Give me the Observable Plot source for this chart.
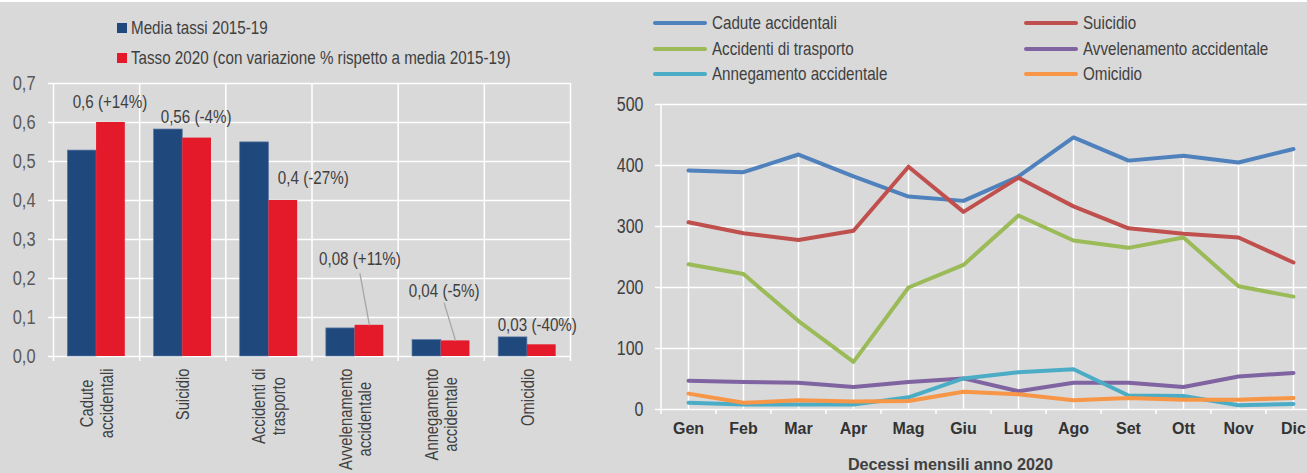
<!DOCTYPE html>
<html>
<head>
<meta charset="utf-8">
<script src="https://cdn.jsdelivr.net/npm/d3@7"></script>
<script src="https://cdn.jsdelivr.net/npm/@observablehq/plot@0.6"></script>
<style>
  html, body { margin: 0; padding: 0; background: #d9d9d9; width: 1307px; height: 473px; overflow: hidden; }
  #topstrip { position: absolute; left: 0; top: 0; width: 1307px; height: 2px; background: #ffffff; }
  .panel { position: absolute; top: 0; }
  .legend { position: absolute; font-family: 'Liberation Sans', Arial, sans-serif; font-size: 18.5px; color: #404040; white-space: nowrap; }
  .legend .item { position: absolute; display: flex; align-items: center; height: 20px; }
  .legend span { display: inline-block; transform: scaleX(0.82); transform-origin: left center; }
  .sq { width: 10px; height: 10px; margin-right: 4px; }
  .ln { width: 54px; height: 4px; border-radius: 2px; margin-right: 5px; }
</style>
</head>
<body>
<div id="topstrip"></div>
<div id="left" class="panel" style="left:0px;width:600px;height:473px;"></div>
<div id="right" class="panel" style="left:560px;width:760px;height:473px;"></div>
<div id="legendL" class="legend" style="left:117px;top:0px;"></div>
<div id="legendR" class="legend" style="left:653px;top:0px;"></div>
<script>
// ---------------- DATA ----------------
const categorie = ["Cadute accidentali", "Suicidio", "Accidenti di trasporto", "Avvelenamento accidentale", "Annegamento accidentale", "Omicidio"];
const etichetteCategorie = ["Cadute\naccidentali", "Suicidio", "Accidenti di\ntrasporto", "Avvelenamento\naccidentale", "Annegamento\naccidentale", "Omicidio"];
const media1519 = [0.528, 0.582, 0.549, 0.072, 0.042, 0.049];
const tasso2020 = [0.6, 0.56, 0.4, 0.08, 0.04, 0.03];
const variazione = [14, -4, -27, 11, -5, -40];
const tickSinistra = [0, 0.1, 0.2, 0.3, 0.4, 0.5, 0.6, 0.7];
const legendaSinistra = ["Media tassi 2015-19", "Tasso 2020 (con variazione % rispetto a media 2015-19)"];

const mesi = ["Gen", "Feb", "Mar", "Apr", "Mag", "Giu", "Lug", "Ago", "Set", "Ott", "Nov", "Dic"];
const cadute = [392, 389, 418, 382, 349, 342, 382, 446, 408, 416, 405, 427];
const suicidio = [307, 289, 278, 293, 398, 324, 380, 333, 297, 288, 282, 241];
const trasporto = [238, 222, 145, 78, 200, 237, 318, 277, 265, 282, 202, 185];
const avvelenamento = [47, 45, 44, 37, 45, 51, 30, 44, 44, 37, 54, 60];
const annegamento = [11, 8, 8, 8, 20, 51, 61, 66, 23, 22, 7, 9];
const omicidio = [26, 11, 15, 13, 14, 29, 25, 15, 19, 16, 16, 19];
const nomiSerie = ["Cadute accidentali", "Suicidio", "Accidenti di trasporto", "Avvelenamento accidentale", "Annegamento accidentale", "Omicidio"];
const tickDestra = [0, 100, 200, 300, 400, 500];
const titoloAsseX = "Decessi mensili anno 2020";

// ---------------- STYLE ----------------
const NARROW = "Liberation Sans";          // condensed horizontally below to mimic Arial Narrow
const NARROW_K = 0.82;
const WIDE = "Arial, 'Liberation Sans', sans-serif";
const BLU = "#1f497d", ROSSO = "#e41a2b";
const coloriSerie = ["#4f81bd", "#c0504d", "#9bbb59", "#8064a2", "#4bacc6", "#f79646"];
const GRID = "#ffffff";
const svgStyle = {background: "transparent", maxWidth: "none", overflow: "visible"};

function narrowText(svg) {
  svg.querySelectorAll("g").forEach(g => {
    if (g.getAttribute("font-family") !== NARROW) return;
    g.querySelectorAll("text").forEach(t => {
      const spans = t.querySelectorAll("tspan");
      const targets = spans.length ? Array.from(spans) : [t];
      targets.forEach(el => {
        const L = el.getComputedTextLength();
        if (L > 0) {
          el.setAttribute("textLength", (L * NARROW_K).toFixed(2));
          el.setAttribute("lengthAdjust", "spacingAndGlyphs");
        }
      });
    });
  });
}

// ---------------- LEGENDS (HTML) ----------------
const legL = document.getElementById("legendL");
[BLU, ROSSO].forEach((c, i) => {
  const it = document.createElement("div");
  it.className = "item";
  it.style.top = (18 + i * 30) + "px";
  it.innerHTML = `<div class="sq" style="background:${c}"></div><span>${legendaSinistra[i]}</span>`;
  legL.appendChild(it);
});
const legR = document.getElementById("legendR");
nomiSerie.forEach((n, i) => {
  const it = document.createElement("div");
  it.className = "item";
  it.style.left = ((i % 2) * 371) + "px";
  it.style.top = (13 + Math.floor(i / 2) * 25.5) + "px";
  it.innerHTML = `<div class="ln" style="background:${coloriSerie[i]}"></div><span>${n}</span>`;
  legR.appendChild(it);
});

// ---------------- LEFT CHART ----------------
const W1 = 600, H = 473, mL1 = 53, mR1 = 30, mT1 = 83, mB1 = 117;
const fw1 = W1 - mL1 - mR1, fh1 = H - mT1 - mB1;
const yMax1 = d3.max(tickSinistra);
const pxX = fw1 / categorie.length, pxY = fh1 / yMax1;
const idx = categorie.map((d, i) => i);
const confini = d3.range(categorie.length + 1).map(i => i - 0.5);
const fmtNum = v => String(v).replace(".", ",");
const fmtVar = v => (v > 0 ? "+" : "") + v + "%";

const ctx = document.createElement("canvas").getContext("2d");
ctx.font = "18px 'Liberation Sans'";

// label placement (styling offsets in px relative to top-centre of the 2020 bar)
const posEtichette = [
  {dx: -1, dy: -20}, {dx: -1, dy: -21}, {dx: 30, dy: -22},
  {dx: -9.5, dy: -66, leader: 14}, {dx: -11.5, dy: -50, leader: 12}, {dx: -4.5, dy: -19.5}
];

const barHalf = 1 / 3;
const marksL = [
  Plot.ruleY(tickSinistra, {stroke: GRID, strokeWidth: 1.5}),
  Plot.ruleX(confini, {stroke: GRID, strokeWidth: 1.5}),
  Plot.ruleY(tickSinistra, {stroke: GRID, strokeWidth: 1.5, insetLeft: -5, insetRight: fw1}),
  Plot.ruleX(confini, {stroke: GRID, strokeWidth: 1.5, insetTop: fh1, insetBottom: -5}),
  Plot.rectY(idx, {x1: i => i - barHalf, x2: i => i, y: i => media1519[i], fill: BLU, stroke: "#5a77a3", strokeWidth: 0.7}),
  Plot.rectY(idx, {x1: i => i, x2: i => i + barHalf, y: i => tasso2020[i], fill: ROSSO}),
  Plot.text(tickSinistra, {y: d => d, text: d => d.toFixed(1).replace(".", ","), frameAnchor: "left", textAnchor: "end", dx: -18,
    fontFamily: NARROW, fontSize: 20, fill: "#595959"})
];
// value labels
idx.forEach(i => {
  const p = posEtichette[i];
  marksL.push(Plot.text([i], {x: i => i + barHalf / 2, y: i => tasso2020[i], text: i => `${fmtNum(tasso2020[i])} (${fmtVar(variazione[i])})`,
    dx: p.dx, dy: p.dy, fontFamily: NARROW, fontSize: 18.5, fill: "#404040"}));
  if (p.leader) {
    marksL.push(Plot.link([i], {
      x1: i => i + barHalf / 2 + p.dx / pxX, y1: i => tasso2020[i] - (p.dy + p.leader) / pxY,
      x2: i => i + barHalf / 2, y2: i => tasso2020[i],
      stroke: "#a6a6a6", strokeWidth: 1.3}));
  }
});
// category labels (block hangs 12px below the axis, lines centred on each other)
etichetteCategorie.forEach((t, i) => {
  const w = d3.max(t.split("\n"), s => ctx.measureText(s).width) * NARROW_K;
  marksL.push(Plot.text([t], {x: () => i, text: d => d, frameAnchor: "bottom", rotate: -90, textAnchor: "middle", lineAnchor: "middle",
    lineHeight: 1.1, dy: 12 + w / 2, fontFamily: NARROW, fontSize: 18, fill: "#404040"}));
});

const left = Plot.plot({
  width: W1, height: H, marginLeft: mL1, marginRight: mR1, marginTop: mT1, marginBottom: mB1,
  x: {type: "linear", domain: [-0.5, categorie.length - 0.5], axis: null},
  y: {domain: [0, yMax1], axis: null},
  style: svgStyle,
  marks: marksL
});
document.getElementById("left").appendChild(left);
narrowText(left);

// ---------------- RIGHT CHART ----------------
const W2 = 760, mL2 = 100, mR2 = 0, mT2 = 104, mB2 = 64;
const fw2 = W2 - mL2 - mR2, fh2 = H - mT2 - mB2;
const step = fw2 / mesi.length;
const valoriSerie = [cadute, suicidio, trasporto, avvelenamento, annegamento, omicidio];
const tabella = nomiSerie.flatMap((n, s) => mesi.map((m, i) => ({serie: n, mese: m, valore: valoriSerie[s][i]})));
const massimi = mesi.map((m, i) => d3.max(valoriSerie, v => v[i]));

const right = Plot.plot({
  width: W2, height: H, marginLeft: mL2, marginRight: mR2, marginTop: mT2, marginBottom: mB2,
  x: {type: "point", domain: mesi, padding: 0.5, axis: null},
  y: {domain: [0, d3.max(tickDestra)], axis: null},
  color: {domain: nomiSerie, range: coloriSerie},
  style: svgStyle,
  marks: [
    Plot.ruleY(tickDestra, {stroke: GRID, strokeWidth: 1.5}),
    Plot.ruleY(tickDestra, {stroke: GRID, strokeWidth: 1.5, insetLeft: -5, insetRight: fw2}),
    Plot.ruleX([mesi[0]], {x: d => d, dx: -step / 2, stroke: GRID, strokeWidth: 1.5}),
    Plot.ruleX(mesi, {x: d => d, dx: -step / 2, stroke: GRID, strokeWidth: 1.5, insetTop: fh2, insetBottom: -5}),
    Plot.ruleX(mesi, {x: d => d, y1: 0, y2: (d, i) => massimi[i], stroke: GRID, strokeWidth: 1.5}),
    Plot.line(tabella, {x: "mese", y: "valore", z: "serie", stroke: "serie", strokeWidth: 4, strokeLinecap: "round", strokeLinejoin: "round"}),
    Plot.text(tickDestra, {y: d => d, text: d => String(d), frameAnchor: "left", textAnchor: "end", dx: -17,
      fontFamily: NARROW, fontSize: 19.5, fill: "#404040"}),
    Plot.text(mesi, {x: d => d, text: d => d, frameAnchor: "bottom", dy: 24, fontFamily: WIDE, fontWeight: "bold", fontSize: 16, fill: "#333333"}),
    Plot.text([titoloAsseX], {text: d => d, frameAnchor: "bottom", dx: -40, dy: 60, fontFamily: WIDE, fontWeight: "bold", fontSize: 16.2, fill: "#404040"})
  ]
});
document.getElementById("right").appendChild(right);
narrowText(right);
</script>
</body>
</html>
